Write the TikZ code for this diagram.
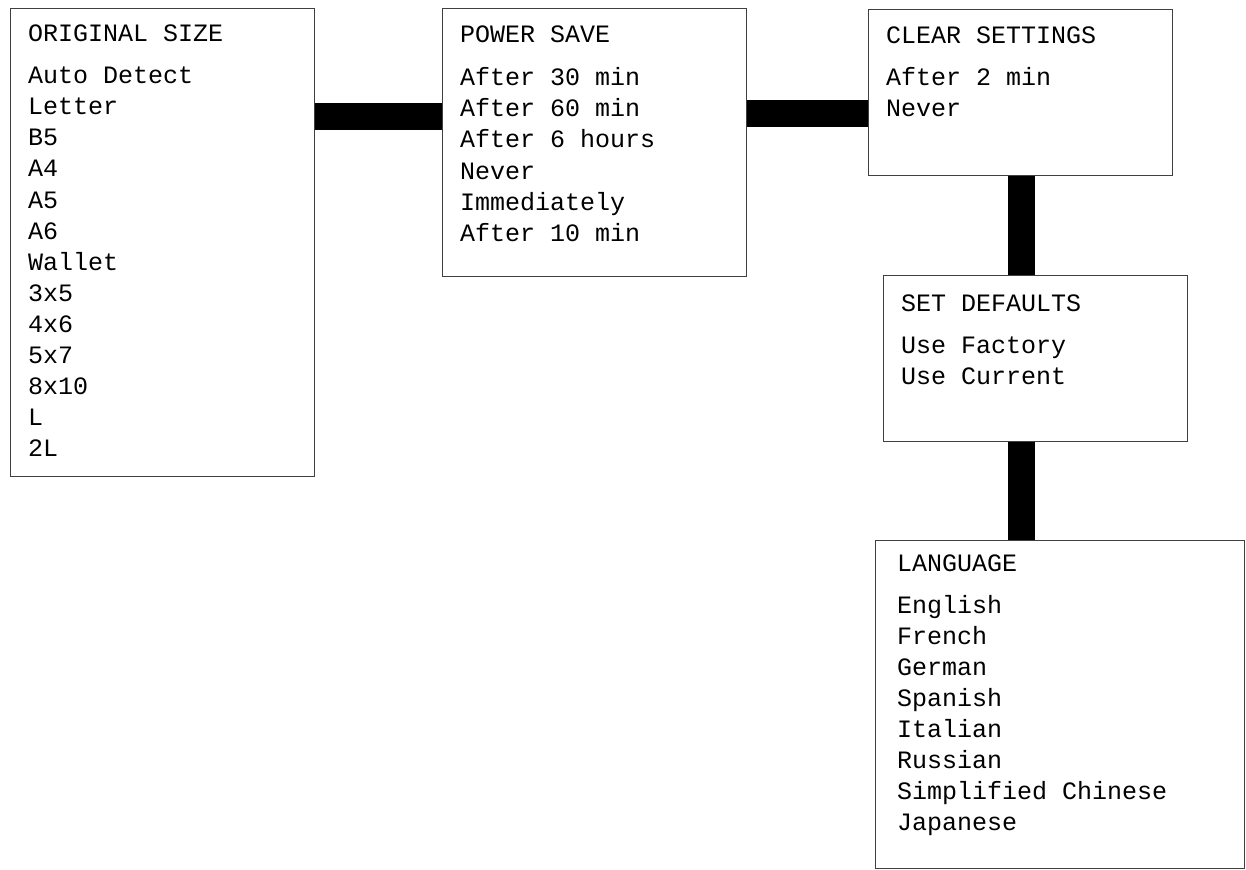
\documentclass[tikz,border=0pt]{standalone}
\usepackage{fontspec}
\setmonofont{Liberation Mono}
\usetikzlibrary{positioning}

\tikzset{
  menubox/.style={draw=black!75, line width=1.4pt, fill=white, inner sep=0pt, anchor=north west, minimum width=304pt},
  entry/.style={font=\ttfamily\fontsize{25}{31}\selectfont, inner sep=0pt, anchor=base west},
  bar/.style={line width=27pt, black}
}

\begin{document}
\begin{tikzpicture}[x=1pt,y=-1pt]
      \useasboundingbox (0,0) rectangle (1246,869);
      %%% the menu boxes
      \node[menubox, minimum height=468pt] (orig) at (10,8) {};
      \node[menubox, minimum height=268pt] (power) at (442,8) {};
      \node[menubox, minimum height=166pt] (clear) at (868,9) {};
      \node[menubox, minimum height=166pt] (setdef) at (883,275) {};
      \node[menubox, minimum width=369pt, minimum height=328pt] (lang) at (875,540) {};
      %%% the links between them
      \draw[bar] ([yshift=-109pt]orig.north east) -- ([yshift=-109pt]orig.north east -| power.west);
      \draw[bar] ([yshift=-106pt]power.north east) -- ([yshift=-106pt]power.north east -| clear.west);
      \draw[bar] ([xshift=1pt]clear.south) -- ([xshift=1pt]clear.south |- setdef.north);
      \draw[bar] ([xshift=1pt]setdef.south -| clear.south) -- ([xshift=1pt]lang.north -| clear.south);
      %%% titles
      \node[entry] (orig-t) at ([xshift=18pt,yshift=-34pt]orig.north west) {ORIGINAL SIZE};
      \node[entry] (power-t) at ([xshift=18pt,yshift=-35pt]power.north west) {POWER SAVE};
      \node[entry] (clear-t) at ([xshift=18pt,yshift=-35pt]clear.north west) {CLEAR SETTINGS};
      \node[entry] (setdef-t) at ([xshift=18pt,yshift=-36pt]setdef.north west) {SET DEFAULTS};
      \node[entry] (lang-t) at ([xshift=22pt,yshift=-31pt]lang.north west) {LANGUAGE};
      %%% the entries
      \foreach \txt [count=\i] in {Auto Detect,Letter,B5,A4,A5,A6,Wallet,3x5,4x6,5x7,8x10,L,2L}
        \node[entry] (orig-\i) at ([xshift=18pt,yshift={-45pt-\i*31pt}]orig.north west) {\txt};
      \foreach \txt [count=\i] in {After 30 min,After 60 min,After 6 hours,Never,Immediately,After 10 min}
        \node[entry] (power-\i) at ([xshift=18pt,yshift={-47pt-\i*31pt}]power.north west) {\txt};
      \foreach \txt [count=\i] in {After 2 min,Never}
        \node[entry] (clear-\i) at ([xshift=18pt,yshift={-46pt-\i*31pt}]clear.north west) {\txt};
      \foreach \txt [count=\i] in {Use Factory,Use Current}
        \node[entry] (setdef-\i) at ([xshift=18pt,yshift={-47pt-\i*31pt}]setdef.north west) {\txt};
      \foreach \txt [count=\i] in {English,French,German,Spanish,Italian,Russian,Simplified Chinese,Japanese}
        \node[entry] (lang-\i) at ([xshift=22pt,yshift={-42pt-\i*31pt}]lang.north west) {\txt};
\end{tikzpicture}
\end{document}
